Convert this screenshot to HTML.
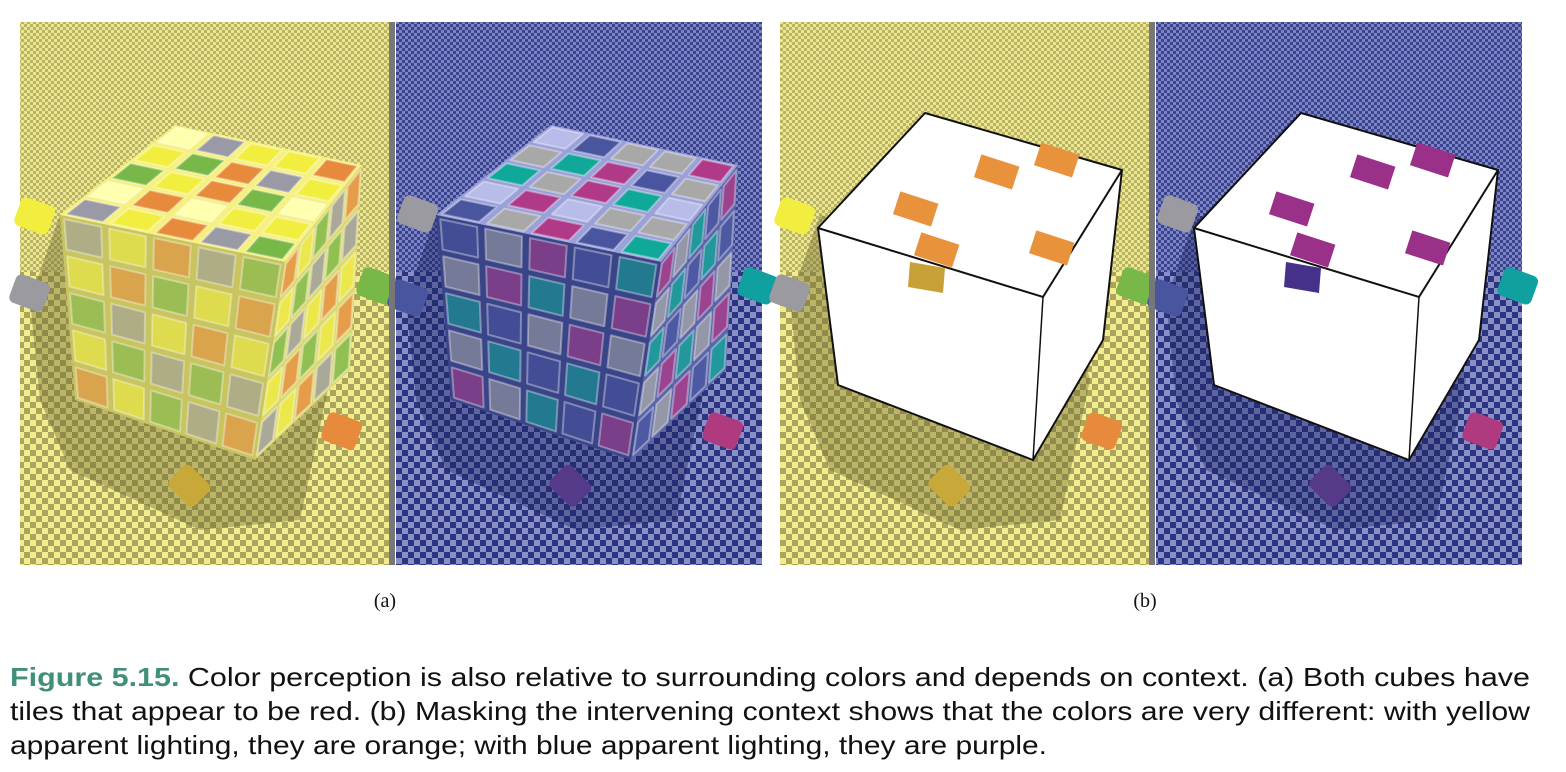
<!DOCTYPE html>
<html><head><meta charset="utf-8"><style>
html,body{margin:0;padding:0;background:#fff;width:1566px;height:772px;overflow:hidden}
svg{display:block}
</style></head><body>
<svg id="fig" width="1566" height="772" viewBox="0 0 1566 772" xmlns="http://www.w3.org/2000/svg">
<defs>
<pattern id="chkY" width="12" height="12" patternUnits="userSpaceOnUse">
<rect width="12" height="12" fill="#f2ec8e"/><rect width="6" height="6" fill="#aaa55c"/><rect x="6" y="6" width="6" height="6" fill="#aaa55c"/></pattern>
<pattern id="chkB" width="12" height="12" patternUnits="userSpaceOnUse">
<rect width="12" height="12" fill="#8a90c6"/><rect width="6" height="6" fill="#2c3582"/><rect x="6" y="6" width="6" height="6" fill="#2c3582"/></pattern>
<pattern id="chkYs" width="6" height="6" patternUnits="userSpaceOnUse">
<rect width="6" height="6" fill="#ece68c"/><rect width="3" height="3" fill="#b8b366"/><rect x="3" y="3" width="3" height="3" fill="#b8b366"/></pattern>
<pattern id="chkBs" width="6" height="6" patternUnits="userSpaceOnUse">
<rect width="6" height="6" fill="#7e84c0"/><rect width="3" height="3" fill="#3a4390"/><rect x="3" y="3" width="3" height="3" fill="#3a4390"/></pattern>
</defs>
<g id="scene"></g>
<text x="385" y="607" font-family="Liberation Serif, serif" font-size="20" text-anchor="middle" fill="#111">(a)</text>
<text x="1145" y="607" font-family="Liberation Serif, serif" font-size="20" text-anchor="middle" fill="#111">(b)</text>
<g font-family="Liberation Sans, sans-serif" font-size="26" fill="#111">
<text x="10" y="686" textLength="1520" lengthAdjust="spacingAndGlyphs"><tspan fill="#3f8f7a" font-weight="bold">Figure 5.15.</tspan> Color perception is also relative to surrounding colors and depends on context. (a) Both cubes have</text>
<text x="10" y="720" textLength="1520" lengthAdjust="spacingAndGlyphs">tiles that appear to be red. (b) Masking the intervening context shows that the colors are very different: with yellow</text>
<text x="10" y="754" textLength="1037" lengthAdjust="spacingAndGlyphs">apparent lighting, they are orange; with blue apparent lighting, they are purple.</text>
</g>
</svg>
<script>
const NS='http://www.w3.org/2000/svg';
const scene=document.getElementById('scene');
function mk(tag,attrs,parent){const e=document.createElementNS(NS,tag);for(const k in attrs)e.setAttribute(k,attrs[k]);(parent||scene).appendChild(e);return e;}
const topY=['#ffffb0','#9a9aa6','#f2ee40','#78b848','#e88a3c'];
const topB=['#b8bce8','#4a55a0','#a8a8a8','#10a898','#b03a88'];
const grid=[[0,1,2,2,4],[2,3,4,1,2],[3,2,4,3,0],[0,4,0,2,2],[1,2,4,1,3]];
const front=[[1,2,4,1,3],[2,4,3,2,4],[3,1,2,4,2],[2,3,1,3,1],[4,2,3,1,4]];
function lerp(a,b,t){return [a[0]+(b[0]-a[0])*t,a[1]+(b[1]-a[1])*t];}
function quadPt(P,u,v){const a=lerp(P[0],P[1],u),b=lerp(P[3],P[2],u);return lerp(a,b,v);}
function tileFace(P,colors,idx,opacity,name){
  for(let i=0;i<5;i++)for(let j=0;j<5;j++){
    const m=0.09,u0=j/5+m/5,u1=(j+1)/5-m/5,v0=i/5+m/5,v1=(i+1)/5-m/5;
    const pts=[quadPt(P,u0,v0),quadPt(P,u1,v0),quadPt(P,u1,v1),quadPt(P,u0,v1)].map(p=>p.join(',')).join(' ');
    const t=mk('polygon',{points:pts,fill:colors[idx[i][j]],'fill-opacity':opacity,stroke:'rgba(255,255,255,0.35)','stroke-width':2,'stroke-linejoin':'round'});
    
    
  }
}
function half(x0,w,pat,dark,blue,masked){
  const g=mk('rect',{x:x0,y:22,width:w,height:543,fill:'url(#'+pat+')'});
  
  
  const sm=mk('rect',{x:x0,y:22,width:w,height:250,fill:'url(#'+pat+'s)'});
  
  
  const dx=x0-20;
  const sh=mk('polygon',{points:[[30,300],[60,215],[300,270],[330,380],[300,520],[200,530],[70,470],[40,400]].map(p=>[p[0]+dx,p[1]].join(',')).join(' '),fill:dark,'fill-opacity':0.4});
  
  
  const small=blue?[['#9a9aa0',420,213],['#4a55a0',410,297],['#10a0a0',760,285],['#b03a80',725,430],['#553a8a',573,485]]:[['#f2ee40',35,215],['#9a9aa0',30,292],['#78b848',377,285],['#e88a3c',342,430],['#c8a838',190,485]];
  small.forEach((s,k)=>{const cx=s[1]-(blue?378:0)+dx,cy=s[2];
    const r=mk('rect',{x:cx-18,y:cy-14,width:36,height:30,rx:6,fill:s[0],transform:'rotate('+(k==4?45:20)+' '+cx+' '+cy+')'});
    
    });
  const colors=blue?topB:topY;
  if(!masked){
    const T=[[175,125],[362,165],[285,262],[60,215]].map(p=>[p[0]+dx,p[1]]);
    const F=[[60,215],[285,262],[255,460],[75,400]].map(p=>[p[0]+dx,p[1]]);
    const R=[[285,262],[362,165],[350,370],[255,460]].map(p=>[p[0]+dx,p[1]]);
    [[T,blue?'#9aa0d8':'#f5f080'],[F,blue?'#3a4488':'#c8c460'],[R,blue?'#5a64a8':'#dcd870']].forEach((f,k)=>{
      const p=mk('polygon',{points:f[0].map(q=>q.join(',')).join(' '),fill:f[1]});
      
      });
    tileFace(T,colors,grid,1,'top-tile');
    tileFace(F,colors,front,0.55,'front-tile');
    tileFace(R,colors,front.slice().reverse(),0.75,'side-tile');
  }else{
    const o=x0-780;
    const pts=[[925,113],[1122,170],[1103,340],[1033,460],[838,385],[818,228]];
    const c=mk('polygon',{points:pts.map(p=>[p[0]+o,p[1]].join(',')).join(' '),fill:'#fff',stroke:'#111','stroke-width':2,'stroke-linejoin':'round'});
    
    
    const e=mk('polyline',{points:[[818,228],[1043,297],[1122,170]].map(p=>[p[0]+o,p[1]].join(',')).join(' '),fill:'none',stroke:'#111','stroke-width':2});
    
    
    const e2=mk('line',{x1:1043+o,y1:297,x2:1033+o,y2:460,stroke:'#111','stroke-width':1.5});
    
    
    const tc=blue?'#9a3088':'#e8923c';
    [[997,171],[1057,159],[916,208],[937,249],[1052,247]].forEach(s=>{
      const r=mk('rect',{x:s[0]-20+o,y:s[1]-11,width:40,height:24,fill:tc});
      r.setAttribute('transform','rotate(18 '+(s[0]+o)+' '+s[1]+')');
      
      });
    const d=mk('polygon',{points:[[910,262],[945,268],[943,293],[908,287]].map(p=>[p[0]+o,p[1]].join(',')).join(' '),fill:blue?'#45308a':'#c8a038'});
    
    
  }
}
function panel(x0,masked){
  half(x0,370,'chkY','#6a6530',false,masked);
  half(x0+376,366,'chkB','#1c2460',true,masked);
  const dv=mk('rect',{x:x0+369,y:22,width:6,height:543,fill:'#777'});
  
  
}
panel(20,false);
panel(780,true);
</script>
</body></html>
